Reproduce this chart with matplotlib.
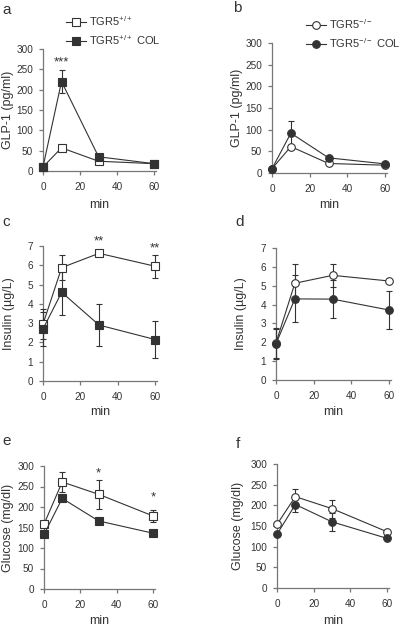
import numpy as np
import matplotlib
matplotlib.use("Agg")
import matplotlib.pyplot as plt
from matplotlib.lines import Line2D
from matplotlib.transforms import blended_transform_factory

plt.rcParams['font.family'] = ['Liberation Sans', 'DejaVu Sans']
plt.rcParams['mathtext.fontset'] = 'custom'
plt.rcParams['mathtext.rm'] = 'Liberation Sans'
plt.rcParams['mathtext.it'] = 'Liberation Sans:italic'
plt.rcParams['mathtext.bf'] = 'Liberation Sans:bold'

#=== data ===#
t = [0, 10, 30, 60]

# GLP-1 (pg/ml)
glp_wt = [10, 57, 24, 18]
glp_wt_err = [0, 0, 0, 0]
glp_wt_col = [10, 220, 35, 18]
glp_wt_col_err = [0, 28, 0, 0]
glp_ko = [10, 61, 22, 18]
glp_ko_err = [0, 0, 0, 0]
glp_ko_col = [10, 92, 35, 21]
glp_ko_col_err = [0, 27, 0, 0]

# Insulin (ug/L)
ins_wt = [2.95, 5.88, 6.62, 5.95]
ins_wt_err = [0.78, 0.65, 0.0, 0.6]
ins_wt_col = [2.7, 4.6, 2.9, 2.15]
ins_wt_col_err = [0.88, 1.2, 1.1, 0.98]
ins_ko = [1.97, 5.13, 5.55, 5.25]
ins_ko_err = [0.8, 1.0, 0.62, 0.0]
ins_ko_col = [1.92, 4.3, 4.29, 3.71]
ins_ko_col_err = [0.8, 1.25, 1.0, 1.0]

# Glucose (mg/dl)
glu_wt = [158, 261, 231, 178]
glu_wt_err = [0, 24, 36, 14]
glu_wt_col = [133, 221, 166, 136]
glu_wt_col_err = [0, 0, 0, 0]
glu_ko = [154, 221, 192, 136]
glu_ko_err = [0, 19, 22, 0]
glu_ko_col = [130, 202, 160, 120]
glu_ko_col_err = [0, 18, 22, 0]

stars_a = [(10, 268, '***')]
stars_c = [(30, 7.22, '**'), (60, 6.88, '**')]
stars_e = [(30, 283, '*'), (60, 224, '*')]

dark = '#333333'
axcol = '#777777'
W, H = 400, 629

fig = plt.figure(figsize=(4.0, 6.29), dpi=100)

def px_axes(l, r, top, bot):
    return fig.add_axes([l / W, 1 - bot / H, (r - l) / W, (bot - top) / H])

def style(ax, ylim, yticks, ylabel, ylab_x, xlab_y):
    for s in ['top', 'right']:
        ax.spines[s].set_visible(False)
    for s in ['left', 'bottom']:
        ax.spines[s].set_color(axcol)
        ax.spines[s].set_linewidth(0.9)
    ax.set_xlim(0, 61)
    ax.set_ylim(*ylim)
    ax.set_xticks([0, 20, 40, 60])
    ax.set_yticks(yticks)
    ax.tick_params(axis='both', direction='out', length=3, width=0.9, color=axcol,
                   labelsize=7.2, labelcolor=dark)
    ax.tick_params(axis='x', pad=5)
    ax.tick_params(axis='y', pad=4)
    ax.set_ylabel(ylabel, fontsize=9, color=dark)
    ax.yaxis.set_label_coords((ylab_x + 7) / W, 0.5,
                              transform=blended_transform_factory(fig.transFigure, ax.transAxes))
    ax.set_xlabel('min', fontsize=9, color=dark)
    ax.xaxis.set_label_coords(0.5, 1 - (xlab_y - 6) / H,
                              transform=blended_transform_factory(ax.transAxes, fig.transFigure))

def series(ax, y, err, marker, filled, ms):
    fc = dark if filled else 'white'
    ax.errorbar(t, y, yerr=err, color=dark, lw=0.8, elinewidth=0.8, capsize=2.5,
                capthick=0.8, marker=marker, ms=ms, mfc=fc, mec=dark, mew=0.8,
                clip_on=False, zorder=3)

def handle(marker, filled, ms):
    return Line2D([], [], color=dark, lw=0.8, marker=marker, ms=ms,
                  mfc=dark if filled else 'white', mec=dark, mew=0.8)

def legend(ax, handles, labels, x, y):
    ax.legend(handles, labels, loc='upper left', bbox_to_anchor=(x / W, 1 - y / H),
              bbox_transform=fig.transFigure, frameon=False, fontsize=8,
              handlelength=1.8, handletextpad=0.3, labelspacing=0.5,
              borderaxespad=0, borderpad=0, labelcolor=dark)

# panel a
ax_a = px_axes(43, 156, 49, 171)
series(ax_a, glp_wt, glp_wt_err, 's', False, 6)
series(ax_a, glp_wt_col, glp_wt_col_err, 's', True, 6)
style(ax_a, (0, 300), range(0, 301, 50), 'GLP-1 (pg/ml)', 7, 205)
legend(ax_a, [handle('s', False, 6), handle('s', True, 6)],
       [r'TGR5$^{+/+}$', r'TGR5$^{+/+}$ COL'], 66, 14)

# panel b
ax_b = px_axes(272, 387, 43, 173)
series(ax_b, glp_ko, glp_ko_err, 'o', False, 5.5)
series(ax_b, glp_ko_col, glp_ko_col_err, 'o', True, 5.5)
style(ax_b, (0, 300), range(0, 301, 50), 'GLP-1 (pg/ml)', 236, 205)
legend(ax_b, [handle('o', False, 5.5), handle('o', True, 5.5)],
       [r'TGR5$^{-/-}$', r'TGR5$^{-/-}$ COL'], 306, 17)

# panel c
ax_c = px_axes(43, 157, 246, 381)
series(ax_c, ins_wt, ins_wt_err, 's', False, 6)
series(ax_c, ins_wt_col, ins_wt_col_err, 's', True, 6)
style(ax_c, (0, 7), range(0, 8), 'Insulin (\u00b5g/L)', 8, 412)

# panel d
ax_d = px_axes(276, 391, 248, 380)
series(ax_d, ins_ko, ins_ko_err, 'o', False, 5.5)
series(ax_d, ins_ko_col, ins_ko_col_err, 'o', True, 5.5)
style(ax_d, (0, 7), range(0, 8), 'Insulin (\u00b5g/L)', 240, 412)

# panel e
ax_e = px_axes(44, 155, 466, 589)
series(ax_e, glu_wt, glu_wt_err, 's', False, 6)
series(ax_e, glu_wt_col, glu_wt_col_err, 's', True, 6)
style(ax_e, (0, 300), range(0, 301, 50), 'Glucose (mg/dl)', 7, 621)

# panel f
ax_f = px_axes(277, 389, 464, 588)
series(ax_f, glu_ko, glu_ko_err, 'o', False, 5.5)
series(ax_f, glu_ko_col, glu_ko_col_err, 'o', True, 5.5)
style(ax_f, (0, 300), range(0, 301, 50), 'Glucose (mg/dl)', 237, 621)

for ax, stars in [(ax_a, stars_a), (ax_c, stars_c), (ax_e, stars_e)]:
    for x, y, s in stars:
        ax.text(x, y, s, ha='center', va='center', fontsize=9.5, color=dark, clip_on=False)

for letter, x, y in [('a', 2, 10), ('b', 233, 8), ('c', 2, 222), ('d', 235, 222),
                     ('e', 2, 441), ('f', 236, 444)]:
    fig.text(x / W, 1 - y / H, letter, fontsize=11, color=dark, ha='left', va='center')

fig.savefig('out.png', dpi=100)
